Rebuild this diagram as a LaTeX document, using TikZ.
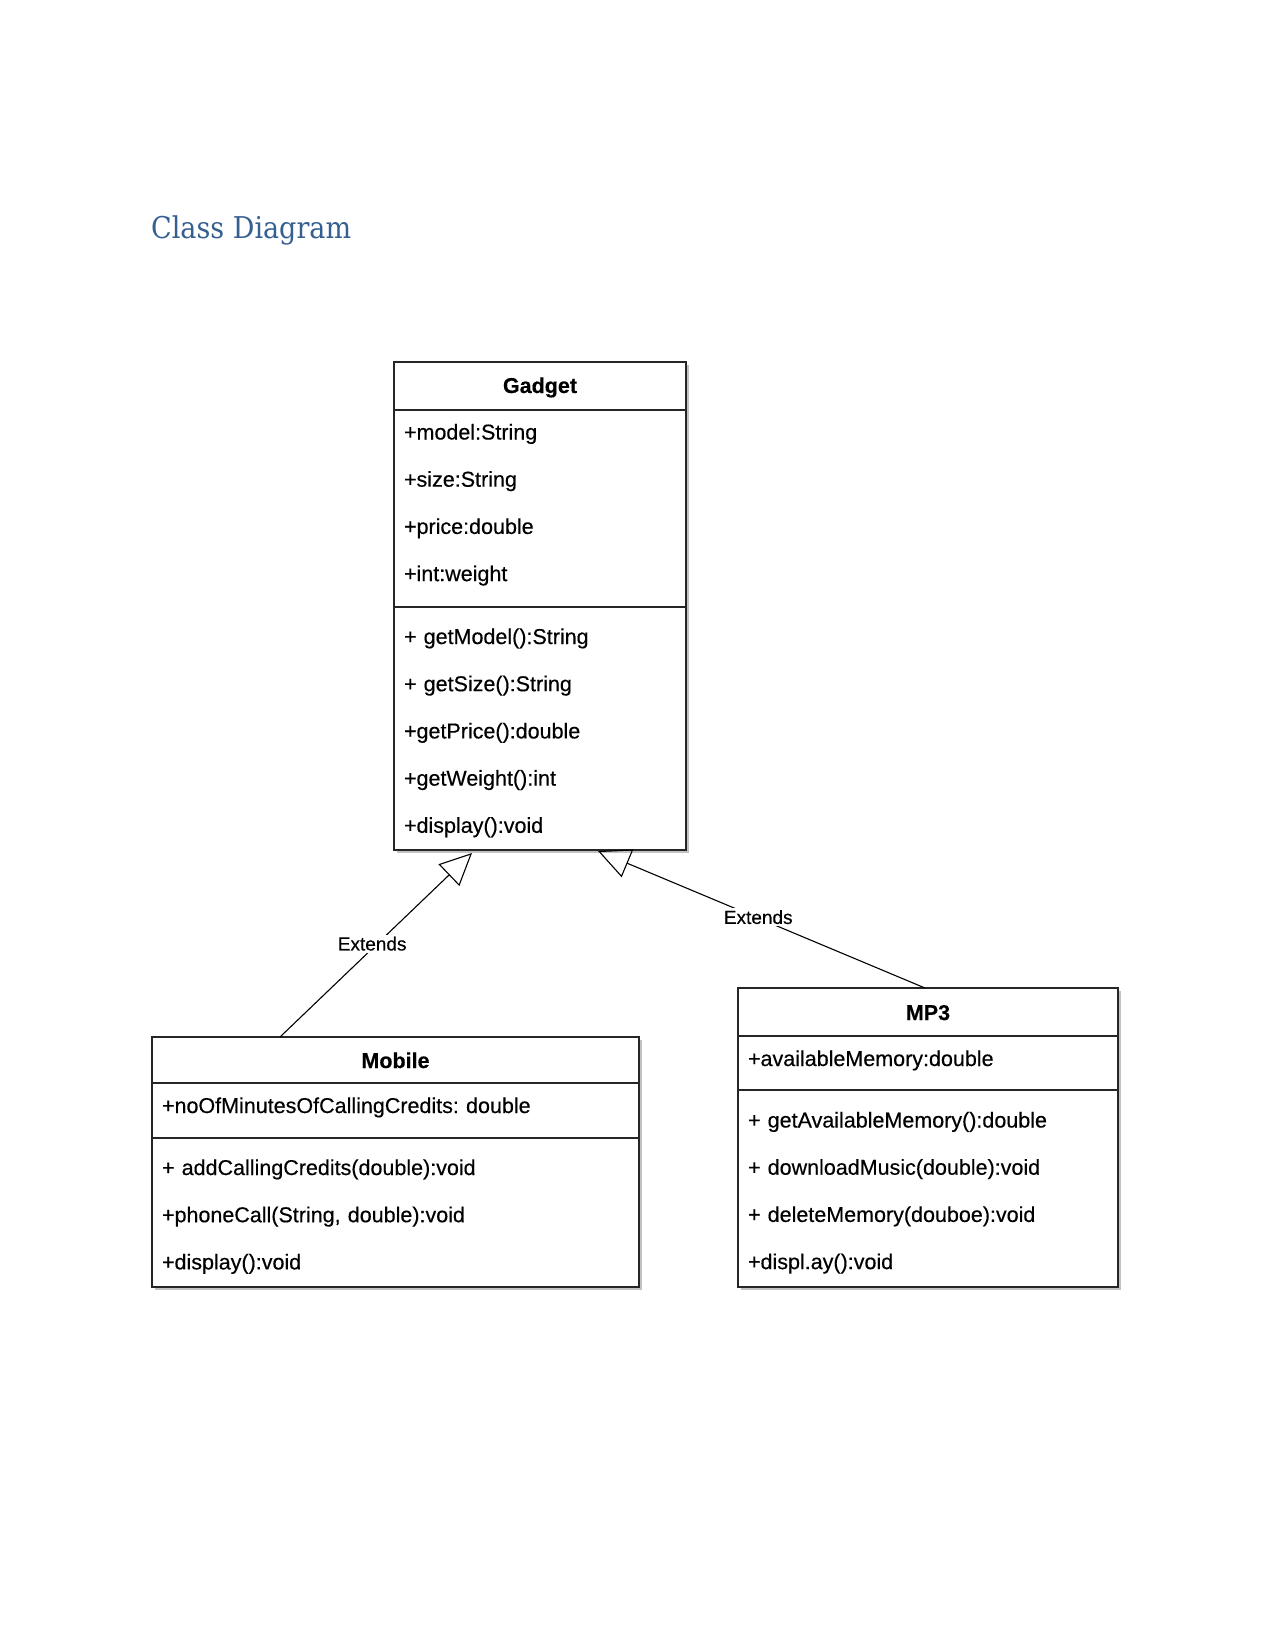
\documentclass[tikz,border=0pt]{standalone}
\usepackage{fontspec}
\setmainfont[FakeBold=0.35]{Liberation Sans}
\newfontfamily\headfont[FakeStretch=0.9]{DejaVu Serif}
\usepackage{xcolor}
\usetikzlibrary{arrows.meta,positioning,calc,fit,backgrounds,shadows}
\definecolor{headblue}{HTML}{365F91}
\newcommand{\cell}[3]{\rule{0pt}{#1pt}#3\rule[-#2pt]{0pt}{#2pt}}

\begin{document}
\frenchspacing
\begin{tikzpicture}[
  x=1pt, y=-1pt,
  node distance=0pt,
  part/.style={draw=black!85, line width=1.7pt, outer sep=0pt, inner xsep=10pt,
    inner ysep=0pt, align=left, font=\fontsize{21.5}{47.2}\selectfont},
  head/.style={part, align=center, font=\bfseries\fontsize{21.5}{26}\selectfont},
  shade/.style={fill=white, inner sep=0pt,
    drop shadow={shadow xshift=3pt, shadow yshift=-3pt, fill=black!40, opacity=0.6}},
  ext/.style={-{Triangle[open, length=32pt, width=30pt]}, line width=1.1pt},
  lbl/.style={fill=white, inner sep=2pt, font=\fontsize{19}{22}\selectfont}
]
  \useasboundingbox (0,0) rectangle (1275,1651);
  \node[anchor=base west, text=headblue, inner sep=0pt,
    font=\headfont\fontsize{30}{36}\selectfont] (title) at (151,238) {Class Diagram};

  \node[head, text width=272pt, anchor=north west] (gadgetTitle) at (394,362) {\cell{31}{17}{Gadget}};
  \node[part, text width=272pt, below=of gadgetTitle] (gadgetAttr)
    {\cell{29.5}{25.9}{+model:String\\+size:String\\+price:double\\+int:weight}};
  \node[part, text width=272pt, below=of gadgetAttr] (gadgetOps)
    {\cell{37}{17.2}{+ getModel():String\\+ getSize():String\\+getPrice():double\\+getWeight():int\\+display():void}};

  \node[head, text width=467pt, anchor=north west] (mobileTitle) at (152,1037) {\cell{31}{15}{Mobile}};
  \node[part, text width=467pt, below=of mobileTitle] (mobileAttr)
    {\cell{30}{25}{+noOfMinutesOfCallingCredits: double}};
  \node[part, text width=467pt, below=of mobileAttr] (mobileOps)
    {\cell{37}{17.6}{+ addCallingCredits(double):void\\+phoneCall(String, double):void\\+display():void}};

  \node[head, text width=360pt, anchor=north west] (mpTitle) at (738,988) {\cell{32}{16}{MP3}};
  \node[part, text width=360pt, below=of mpTitle] (mpAttr)
    {\cell{30}{24}{+availableMemory:double}};
  \node[part, text width=360pt, below=of mpAttr] (mpOps)
    {\cell{37.5}{17.9}{+ getAvailableMemory():double\\+ downloadMusic(double):void\\+ deleteMemory(douboe):void\\+displ.ay():void}};

  \begin{scope}[on background layer]
    \node[shade, fit=(gadgetTitle)(gadgetOps)] (gadgetBox) {};
    \node[shade, fit=(mobileTitle)(mobileOps)] (mobileBox) {};
    \node[shade, fit=(mpTitle)(mpOps)] (mpBox) {};
  \end{scope}

  \coordinate (mobileTop) at ([xshift=128pt]mobileTitle.north west);
  \coordinate (mpTop) at ([xshift=-3pt]mpTitle.north);
  \coordinate (gadgetIn1) at ([xshift=78pt, yshift=-3pt]gadgetOps.south west);
  \coordinate (gadgetIn2) at ([xshift=204pt, yshift=-1pt]gadgetOps.south west);

  \draw[ext] (mobileTop) -- node[lbl, pos=0.48, yshift=5pt] (ext1) {Extends} (gadgetIn1);
  \draw[ext] (mpTop) -- node[lbl, pos=0.51, yshift=1pt] (ext2) {Extends} (gadgetIn2);
\end{tikzpicture}
\end{document}
